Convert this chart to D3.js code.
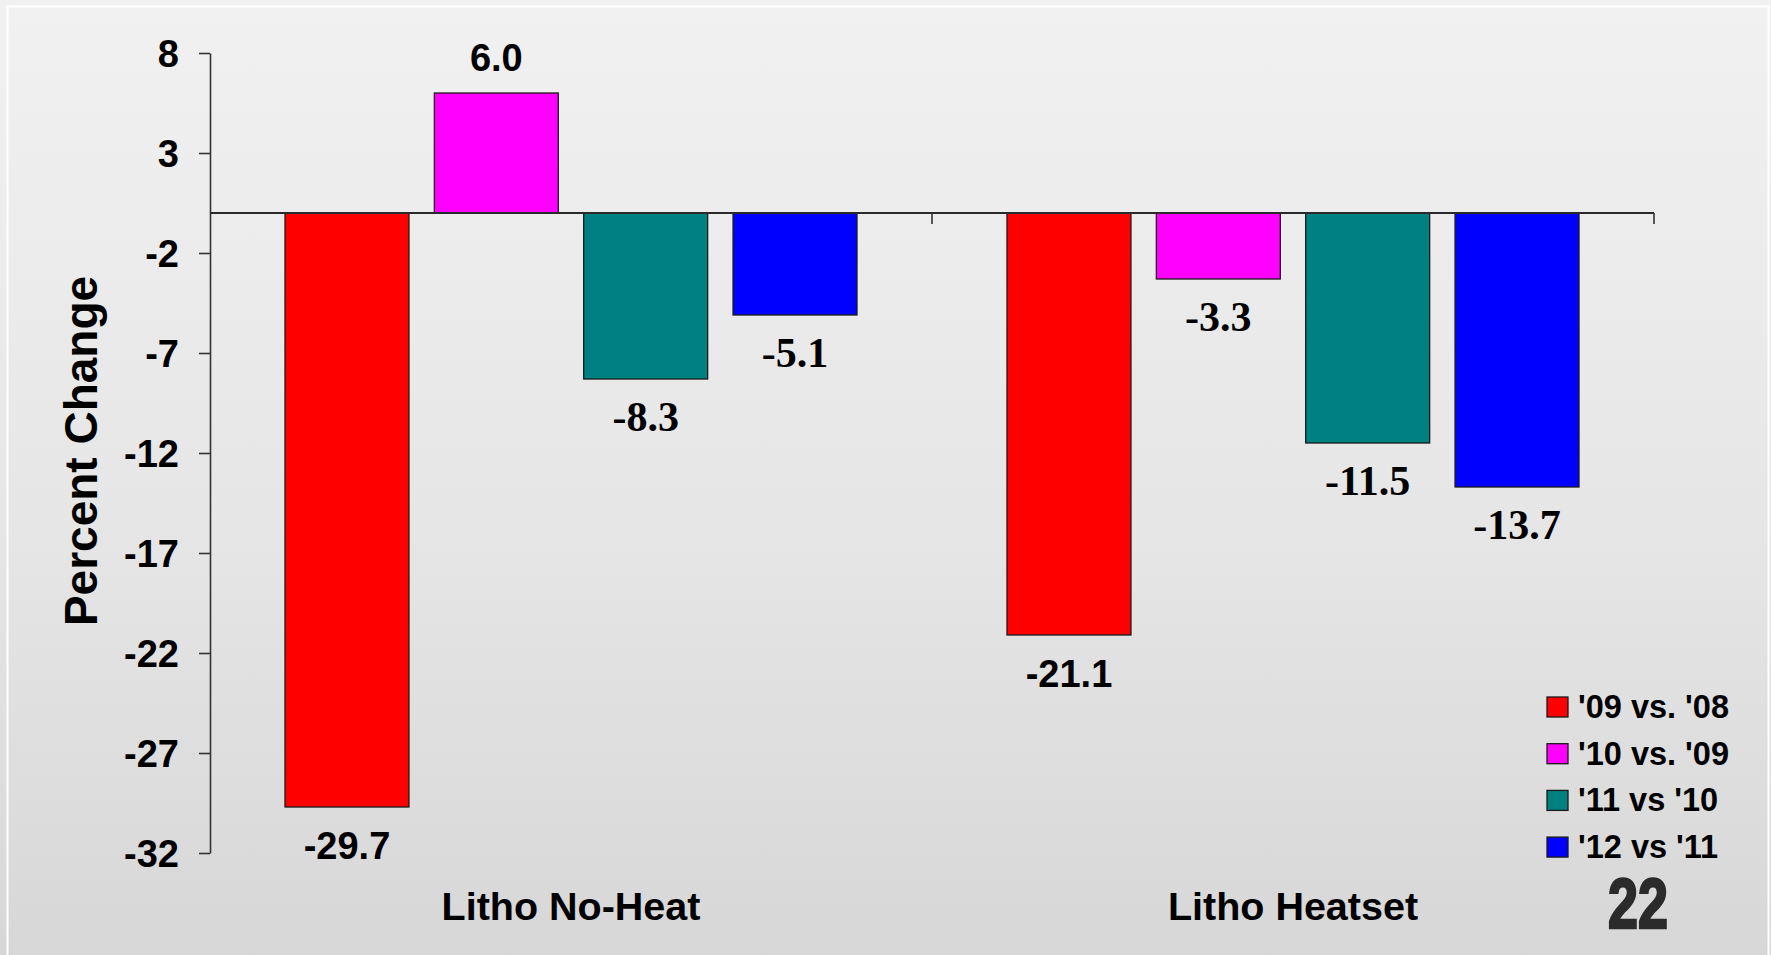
<!DOCTYPE html>
<html>
<head>
<meta charset="utf-8">
<script src="https://cdn.jsdelivr.net/npm/d3@7"></script>
<style>
  html, body { margin: 0; padding: 0; background: #e6e6e6; }
  svg { display: block; }
</style>
</head>
<body>
<script>
// ---- data ----
const categories = ["Litho No-Heat", "Litho Heatset"];
const seriesNames = ["'09 vs. '08", "'10 vs. '09", "'11 vs '10", "'12 vs '11"];
const series09vs08 = [-29.7, -21.1];
const series10vs09 = [6.0, -3.3];
const series11vs10 = [-8.3, -11.5];
const series12vs11 = [-5.1, -13.7];
const yTickValues = [8, 3, -2, -7, -12, -17, -22, -27, -32];
const yTitle = "Percent Change";
const pageNumber = "22";

// ---- styles ----
const colors = ["#ff0000", "#ff00ff", "#008080", "#0000ff"];
// labels that the original renders in a serif face (series index, category index)
const serifLabels = new Set(["1-1", "2-0", "2-1", "3-0", "3-1"]);

const W = 1771, H = 955;
const seriesValues = [series09vs08, series10vs09, series11vs10, series12vs11];

const svg = d3.select("body").append("svg").attr("width", W).attr("height", H);

const defs = svg.append("defs");
const grad = defs.append("linearGradient").attr("id", "bg").attr("x1", 0).attr("y1", 0).attr("x2", 0).attr("y2", 1);
grad.append("stop").attr("offset", "0%").attr("stop-color", "#f1f1f1");
grad.append("stop").attr("offset", "55%").attr("stop-color", "#e6e6e6");
grad.append("stop").attr("offset", "100%").attr("stop-color", "#d7d7d7");

svg.append("rect").attr("width", W).attr("height", H).attr("fill", "url(#bg)");
svg.append("rect").attr("x", 7.5).attr("y", 6.5).attr("width", 1761).attr("height", H + 20)
  .attr("fill", "none").attr("stroke", "#ffffff").attr("stroke-width", 2);

// ---- scales ----
const y = d3.scaleLinear().domain([-32, 8]).range([853, 53]);
const x0 = d3.scaleBand().domain(categories).range([210, 1654]).padding(0);
const outerGap = 75;
const x1 = d3.scaleBand().domain(d3.range(seriesNames.length))
  .range([outerGap, x0.bandwidth() - outerGap]).paddingInner(0.17).paddingOuter(0);

const sansFont = "'Liberation Sans', Arial, Helvetica, sans-serif";
const serifFont = "'Liberation Serif', 'Times New Roman', serif";

// ---- bars ----
const groups = svg.append("g").selectAll("g").data(categories).join("g")
  .attr("transform", d => `translate(${x0(d)},0)`);

groups.each(function(cat, ci) {
  const g = d3.select(this);
  const pts = seriesValues.map((vals, si) => ({ si, ci, v: vals[ci] }));
  g.selectAll("rect").data(pts).join("rect")
    .attr("x", d => x1(d.si))
    .attr("width", x1.bandwidth())
    .attr("y", d => y(Math.max(0, d.v)))
    .attr("height", d => Math.abs(y(d.v) - y(0)))
    .attr("fill", d => colors[d.si])
    .attr("stroke", "#1a1a1a")
    .attr("stroke-width", 1.3);

  g.selectAll("text").data(pts).join("text")
    .attr("x", d => x1(d.si) + x1.bandwidth() / 2)
    .attr("y", d => d.v >= 0 ? y(d.v) - 22 : y(d.v) + 52)
    .attr("text-anchor", "middle")
    .attr("font-weight", "bold")
    .attr("font-family", d => serifLabels.has(d.si + "-" + d.ci) ? serifFont : sansFont)
    .attr("font-size", d => serifLabels.has(d.si + "-" + d.ci) ? 42 : 38)
    .attr("fill", "#000")
    .text(d => d.v.toFixed(1));
});

// ---- y axis ----
const yAxis = svg.append("g").attr("transform", "translate(210,0)")
  .call(d3.axisLeft(y).tickValues(yTickValues).tickSize(11).tickSizeOuter(0).tickPadding(20).tickFormat(d => String(d)));
yAxis.select(".domain").attr("stroke", "#333").attr("stroke-width", 1.6);
yAxis.selectAll(".tick line").attr("stroke", "#333").attr("stroke-width", 1.6);
yAxis.selectAll(".tick text").attr("font-family", sansFont).attr("font-weight", "bold")
  .attr("font-size", 38).attr("fill", "#000").attr("dy", "0.36em");

// ---- category (zero) axis ----
const xr = x0.range();
svg.append("line").attr("x1", xr[0]).attr("x2", xr[1]).attr("y1", y(0)).attr("y2", y(0))
  .attr("stroke", "#2a2a2a").attr("stroke-width", 2);
const boundaries = [xr[0]].concat(categories.map(c => x0(c) + x0.bandwidth()));
svg.append("g").selectAll("line").data(boundaries.slice(1)).join("line")
  .attr("x1", d => d).attr("x2", d => d).attr("y1", y(0)).attr("y2", y(0) + 11)
  .attr("stroke", "#333").attr("stroke-width", 1.6);

// category labels
svg.append("g").selectAll("text").data(categories).join("text")
  .attr("x", d => x0(d) + x0.bandwidth() / 2)
  .attr("y", 920)
  .attr("text-anchor", "middle")
  .attr("font-family", sansFont).attr("font-weight", "bold").attr("font-size", 39.5)
  .attr("fill", "#000")
  .text(d => d);

// y title
svg.append("text")
  .attr("transform", "translate(97,451) rotate(-90)")
  .attr("text-anchor", "middle")
  .attr("font-family", sansFont).attr("font-weight", "bold").attr("font-size", 46)
  .attr("fill", "#000")
  .text(yTitle);

// ---- legend ----
const legend = svg.append("g").attr("transform", "translate(1547,697)");
const li = legend.selectAll("g").data(seriesNames).join("g")
  .attr("transform", (d, i) => `translate(0,${i * 46.7})`);
li.append("rect").attr("width", 21).attr("height", 20)
  .attr("fill", (d, i) => colors[i]).attr("stroke", "#1a1a1a").attr("stroke-width", 1.3);
li.append("text").attr("x", 31).attr("y", 21)
  .attr("font-family", sansFont).attr("font-weight", "bold").attr("font-size", 32.5)
  .attr("fill", "#000").text(d => d);

// ---- page number ----
svg.append("text").attr("x", 1608).attr("y", 928)
  .attr("font-family", sansFont).attr("font-weight", "bold").attr("font-size", 70)
  .attr("textLength", 60).attr("lengthAdjust", "spacingAndGlyphs")
  .attr("fill", "#2b2b2b").attr("stroke", "#2b2b2b").attr("stroke-width", 2.5)
  .text(pageNumber);
</script>
</body>
</html>
